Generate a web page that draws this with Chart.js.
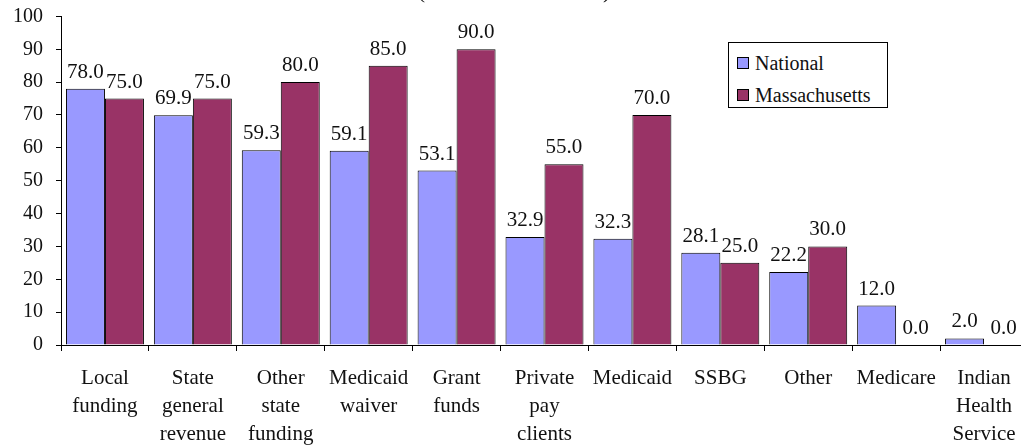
<!DOCTYPE html>
<html>
<head>
<meta charset="utf-8">
<script src="https://cdn.jsdelivr.net/npm/chart.js@4"></script>
<style>
  html, body { margin: 0; padding: 0; background: #fff; overflow: hidden; }
  #wrap { position: absolute; left: 0; top: -30px; width: 1030px; height: 477px; }
  #legend {
    position: absolute; left: 728px; top: 42px; width: 158px; height: 64px;
    border: 1px solid #000; background: #fff;
    font-family: "Liberation Serif", serif; font-size: 20px; color: #111;
  }
  #legend div { position: absolute; left: 8px; height: 22px; line-height: 22px; }
  #legend span.sw {
    display: inline-block; width: 10px; height: 10px; border: 1px solid #000;
    margin-right: 6px; vertical-align: 1px;
  }
</style>
</head>
<body>
<div id="wrap"><canvas id="chart"></canvas></div>
<div id="legend"></div>
<script>
const chartTitle = "(Massachusetts n=20)";
const categories = [
  ["Local", "funding"],
  ["State", "general", "revenue"],
  ["Other", "state", "funding"],
  ["Medicaid", "waiver"],
  ["Grant", "funds"],
  ["Private", "pay", "clients"],
  "Medicaid",
  "SSBG",
  "Other",
  "Medicare",
  ["Indian", "Health", "Service"]
];
const nationalValues = [78.0, 69.9, 59.3, 59.1, 53.1, 32.9, 32.3, 28.1, 22.2, 12.0, 2.0];
const massValues = [75.0, 75.0, 80.0, 85.0, 90.0, 55.0, 70.0, 25.0, 30.0, 0.0, 0.0];
const seriesNames = ["National", "Massachusetts"];
const seriesColors = ["#9999ff", "#993366"];

const serif = "'Liberation Serif', 'Times New Roman', serif";

// value labels above each bar
const valueLabels = {
  id: "valueLabels",
  afterDatasetsDraw(chart) {
    const ctx = chart.ctx;
    ctx.save();
    ctx.font = "21px " + serif;
    ctx.fillStyle = "#111";
    ctx.textAlign = "center";
    ctx.textBaseline = "alphabetic";
    chart.data.datasets.forEach((ds, i) => {
      chart.getDatasetMeta(i).data.forEach((bar, j) => {
        ctx.fillText(ds.data[j].toFixed(1), bar.x, bar.y - 11);
      });
    });
    ctx.restore();
  }
};

const ctx = document.getElementById("chart").getContext("2d");
const myChart = new Chart(ctx, {
  type: "bar",
  data: {
    labels: categories,
    datasets: [
      {
        label: seriesNames[0],
        data: nationalValues,
        backgroundColor: seriesColors[0],
        borderColor: "#000",
        borderWidth: 1,
        categoryPercentage: 0.887,
        barPercentage: 1.0
      },
      {
        label: seriesNames[1],
        data: massValues,
        backgroundColor: seriesColors[1],
        borderColor: "#000",
        borderWidth: 1,
        categoryPercentage: 0.887,
        barPercentage: 1.0
      }
    ]
  },
  options: {
    responsive: true,
    maintainAspectRatio: false,
    animation: false,
    layout: { padding: { left: 0, right: 2, top: 0, bottom: 0 } },
    plugins: {
      legend: { display: false },
      tooltip: { enabled: false },
      title: {
        display: true,
        text: chartTitle,
        color: "#111",
        font: { family: serif, size: 22, weight: "normal" },
        padding: { top: 9, bottom: 11 }
      }
    },
    scales: {
      x: {
        afterFit: (s) => { s.height = 102; },
        border: { color: "#000", width: 1 },
        grid: { display: true, drawOnChartArea: false, color: "#000", tickLength: 6, offset: true },
        ticks: {
          color: "#111",
          font: { family: serif, size: 21, lineHeight: 1.35 },
          padding: 13,
          maxRotation: 0,
          autoSkip: false
        }
      },
      y: {
        min: 0,
        max: 100,
        afterFit: (s) => { s.width = 61; },
        border: { color: "#000", width: 1 },
        grid: { display: true, drawOnChartArea: false, color: "#000", tickLength: 5 },
        ticks: {
          stepSize: 10,
          color: "#111",
          font: { family: serif, size: 20 },
          padding: 13
        }
      }
    }
  },
  plugins: [valueLabels]
});

// legend box
const legendEl = document.getElementById("legend");
seriesNames.forEach((name, i) => {
  const row = document.createElement("div");
  row.style.top = (i === 0 ? 9 : 41) + "px";
  row.innerHTML = '<span class="sw" style="background:' + seriesColors[i] + '"></span>' + name;
  legendEl.appendChild(row);
});
</script>
</body>
</html>
